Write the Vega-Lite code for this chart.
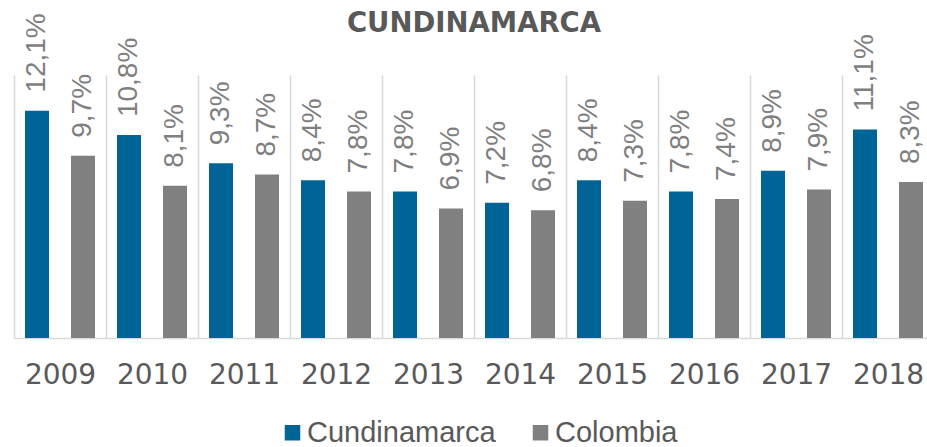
{
  "$schema": "https://vega.github.io/schema/vega-lite/v6.json",
  "width": 920,
  "height": 263,
  "autosize": "none",
  "padding": {"left": 14, "top": 75, "right": -7, "bottom": 109},
  "config": {
    "locale": {"number": {"decimal": ",", "thousands": ".", "grouping": [3], "currency": ["$", ""]}},
    "view": {"stroke": null},
    "font": "Liberation Sans"
  },
  "title": {
    "text": "CUNDINAMARCA",
    "font": "DejaVu Sans",
    "fontSize": 27.5,
    "fontWeight": "bold",
    "color": "#595959",
    "anchor": "middle",
    "frame": "group",
    "baseline": "alphabetic",
    "offset": -46
  },
  "data": {
    "values": [
      {"year": "2009", "serie": "Cundinamarca", "value": 0.121},
      {"year": "2009", "serie": "Colombia", "value": 0.097},
      {"year": "2010", "serie": "Cundinamarca", "value": 0.108},
      {"year": "2010", "serie": "Colombia", "value": 0.081},
      {"year": "2011", "serie": "Cundinamarca", "value": 0.093},
      {"year": "2011", "serie": "Colombia", "value": 0.087},
      {"year": "2012", "serie": "Cundinamarca", "value": 0.084},
      {"year": "2012", "serie": "Colombia", "value": 0.078},
      {"year": "2013", "serie": "Cundinamarca", "value": 0.078},
      {"year": "2013", "serie": "Colombia", "value": 0.069},
      {"year": "2014", "serie": "Cundinamarca", "value": 0.072},
      {"year": "2014", "serie": "Colombia", "value": 0.068},
      {"year": "2015", "serie": "Cundinamarca", "value": 0.084},
      {"year": "2015", "serie": "Colombia", "value": 0.073},
      {"year": "2016", "serie": "Cundinamarca", "value": 0.078},
      {"year": "2016", "serie": "Colombia", "value": 0.074},
      {"year": "2017", "serie": "Cundinamarca", "value": 0.089},
      {"year": "2017", "serie": "Colombia", "value": 0.079},
      {"year": "2018", "serie": "Cundinamarca", "value": 0.111},
      {"year": "2018", "serie": "Colombia", "value": 0.083}
    ]
  },
  "encoding": {
    "x": {
      "field": "year",
      "type": "nominal",
      "scale": {"paddingInner": 0, "paddingOuter": 0},
      "axis": {
        "title": null,
        "grid": true,
        "tickBand": "extent",
        "gridColor": "#d9d9d9",
        "gridWidth": 1.5,
        "domainColor": "#d9d9d9",
        "domainWidth": 1.5,
        "ticks": false,
        "tickSize": 0,
        "labelAngle": 0,
        "labelFont": "DejaVu Sans",
        "labelFontSize": 28,
        "labelColor": "#595959",
        "labelPadding": 23,
        "labelOverlap": false
      }
    },
    "xOffset": {
      "field": "serie",
      "type": "nominal",
      "sort": ["Cundinamarca", "Colombia"],
      "scale": {"paddingInner": 0.478, "paddingOuter": 0.239}
    },
    "y": {
      "field": "value",
      "type": "quantitative",
      "scale": {"domain": [0, 0.14], "nice": false},
      "axis": null
    }
  },
  "layer": [
    {
      "mark": {"type": "bar"},
      "encoding": {
        "color": {
          "field": "serie",
          "type": "nominal",
          "scale": {"domain": ["Cundinamarca", "Colombia"], "range": ["#006496", "#808080"]},
          "legend": {
            "title": null,
            "orient": "none",
            "direction": "horizontal",
            "legendX": 264,
            "legendY": 343,
            "padding": 0,
            "symbolType": "square",
            "symbolSize": 240,
            "symbolStrokeWidth": 0,
            "symbolOpacity": 1,
            "labelFontSize": 29,
            "labelColor": "#595959",
            "labelOffset": 0,
            "labelLimit": 400,
            "columnPadding": 30
          }
        }
      }
    },
    {
      "mark": {
        "type": "text",
        "angle": 270,
        "align": "left",
        "baseline": "middle",
        "dx": 18,
        "fontSize": 28,
        "color": "#7f7f7f"
      },
      "encoding": {
        "text": {"field": "value", "type": "quantitative", "format": ".1%"}
      }
    }
  ]
}
